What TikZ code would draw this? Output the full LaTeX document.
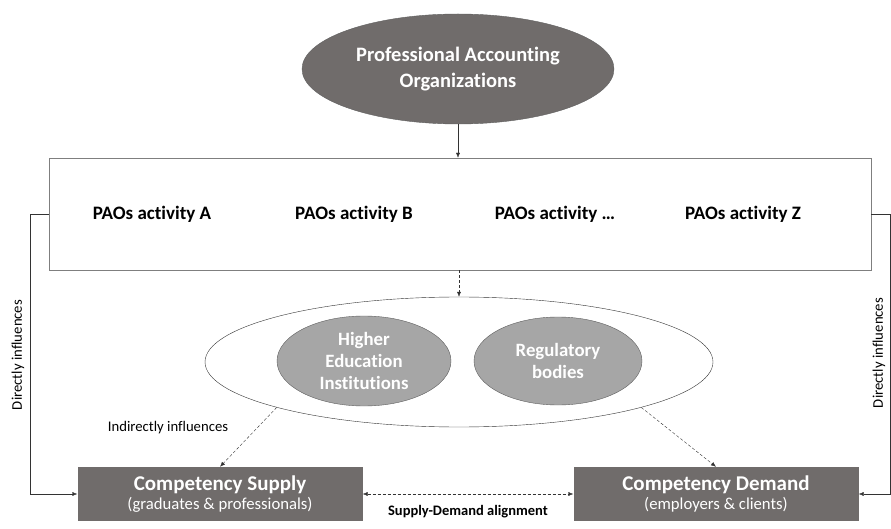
\documentclass[tikz,border=0pt]{standalone}
\usepackage{fontspec}
\setmainfont{Carlito}[Ligatures={NoCommon,TeX}]
\usetikzlibrary{shapes.geometric,arrows.meta}

\definecolor{darkfill}{RGB}{112,108,107}
\definecolor{lightfill}{RGB}{166,166,166}
\definecolor{edgegray}{RGB}{95,95,95}

\tikzset{
  orgnode/.style={ellipse,fill=darkfill,draw=edgegray,text=white,align=center,
    font=\fontsize{20.5}{26}\selectfont\bfseries},
  actorbox/.style={ellipse,fill=lightfill,draw=edgegray,text=white,align=center,
    font=\fontsize{18.8}{21.7}\selectfont\bfseries},
  compbox/.style={rectangle,fill=darkfill,draw=none,text=white,align=center,
    minimum width=285,minimum height=54},
  actlabel/.style={font=\fontsize{19}{21}\selectfont\bfseries},
  smalllabel/.style={font=\fontsize{14.7}{16}\selectfont},
  link/.style={draw=black!80,-{Latex[length=5pt,width=4pt]}},
  dashlink/.style={link,densely dashed},
}

\begin{document}
\begin{tikzpicture}[x=1pt,y=-1pt]
  \useasboundingbox (0,0) rectangle (891,529);

  % top: the organizations
  \node[orgnode,minimum width=312,minimum height=110] (pao) at (458,69)
    {Professional Accounting\\Organizations};

  % activity strip
  \node[draw=edgegray!80,fill=white,minimum width=822,minimum height=112] (acts) at (460,214) {};
  \node[actlabel] (actA) at (152,214) {PAOs activity A};
  \node[actlabel] (actB) at (354,214) {PAOs activity B};
  \node[actlabel] (actC) at (555,214) {PAOs activity \ldots};
  \node[actlabel] (actZ) at (743,214) {PAOs activity Z};

  % middle: the actors
  \node[ellipse,draw=black!80,fill=white,minimum width=508,minimum height=130] (actors) at (459,362) {};
  \node[actorbox,minimum width=174,minimum height=90] (hei) at (364,361)
    {Higher\\Education\\Institutions};
  \node[actorbox,minimum width=168,minimum height=88] (reg) at (558,361)
    {Regulatory\\bodies};

  % bottom: supply and demand
  \node[compbox] (supply) at (220,494)
    {{\fontsize{21}{22}\selectfont\bfseries Competency Supply}\\[3pt]
     {\fontsize{16.7}{20}\selectfont (graduates \& professionals)}};
  \node[compbox] (demand) at (716,494)
    {{\fontsize{21}{22}\selectfont\bfseries Competency Demand}\\[3pt]
     {\fontsize{16.7}{20}\selectfont (employers \& clients)}};

  \coordinate (lrail) at (30,214);
  \coordinate (rrail) at (890,214);

  \draw[link] (pao.south) -- (pao.south |- acts.north);
  \draw[dashlink] (acts.south -| actors.north) -- (actors.north);
  \draw[link] (acts.west) -- (lrail) |- (supply.west);
  \draw[link] (acts.east) -- (rrail) |- (demand.east);
  \draw[dashlink] (actors.194) -- (supply.north);
  \draw[dashlink] (actors.346) -- (demand.north);
  \draw[dashlink,{Latex[length=5pt,width=4pt]}-{Latex[length=5pt,width=4pt]}] (supply.east) -- (demand.west);

  \node[smalllabel,rotate=90] (dirL) at (18,355) {Directly influences};
  \node[smalllabel,rotate=90] (dirR) at (879,353) {Directly influences};
  \node[smalllabel] (indir) at (168,428) {Indirectly influences};
  \node[font=\fontsize{14.5}{16}\selectfont\bfseries] (align) at (468,512) {Supply-Demand alignment};
\end{tikzpicture}
\end{document}
